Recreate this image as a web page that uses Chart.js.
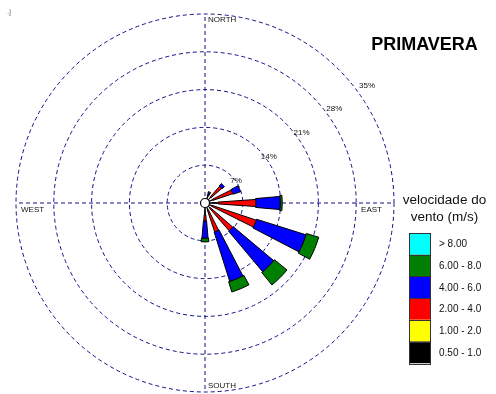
<!DOCTYPE html>
<html>
<head>
<meta charset="utf-8">
<script src="https://cdn.jsdelivr.net/npm/chart.js@4/dist/chart.umd.min.js"></script>
<style>
  html, body { margin: 0; padding: 0; background: #ffffff; }
  #wrap { width: 496px; height: 394px; position: relative; }
</style>
</head>
<body>
<div id="wrap"><canvas id="rose" width="496" height="394"></canvas></div>
<script>
// Sixteen compass sectors, clockwise from north
const directions = ['N', 'NNE', 'NE', 'ENE', 'E', 'ESE', 'SE', 'SSE',
                    'S', 'SSW', 'SW', 'WSW', 'W', 'WNW', 'NW', 'NNW'];

// Wind speed classes (m/s) and their colours
const speedClasses = ['0.50 - 1.0', '1.00 - 2.0', '2.00 - 4.0', '4.00 - 6.0', '6.00 - 8.0', '> 8.00'];
const classColors = ['#000000', '#ffff00', '#ff0000', '#0000ff', '#008000', '#00ffff'];

// Frequency of occurrence (%) per direction, one array per speed class
const freq050to100 = [0, 1.4, 1.5, 1.5, 2.4, 1.3, 1.3, 1.3, 2.2, 0, 0, 0, 0, 0, 0, 0];
const freq100to200 = [0, 0, 0, 0, 0, 0, 0, 0, 0, 0, 0, 0, 0, 0, 0, 0];
const freq200to400 = [0, 0, 2.6, 3.9, 7.0, 8.7, 5.5, 4.3, 1.1, 0, 0, 0, 0, 0, 0, 0];
const freq400to600 = [0, 0.5, 0.6, 1.5, 4.5, 9.6, 9.8, 9.6, 3.2, 0, 0, 0, 0, 0, 0, 0];
const freq600to800 = [0, 0.3, 0, 0, 0.4, 2.4, 3.0, 2.0, 0.7, 0, 0, 0, 0, 0, 0, 0];
const freqAbove800 = [0, 0, 0, 0, 0, 0, 0, 0, 0, 0, 0, 0, 0, 0, 0, 0];

// Percentage rings of the rose
const ringTicks = [7, 14, 21, 28, 35];
const ringLabels = ['7%', '14%', '21%', '28%', '35%'];
const compassLabels = ['NORTH', 'EAST', 'SOUTH', 'WEST'];

const chartTitle = 'PRIMAVERA';
const legendTitle = ['velocidade do', 'vento (m/s)'];

const classSeries = [freq050to100, freq100to200, freq200to400, freq400to600, freq600to800, freqAbove800];
// angular width (degrees) of each speed class petal: faster classes are drawn wider
const classWidths = [3, 5, 8, 10, 11.5, 13];

const GRID = '#10108a';

// Polar-area variant: each element is a ring segment centred on its direction,
// stacked on top of the slower classes of the same direction.
const PolarArea = Chart.PolarAreaController || Chart.registry.getController('polarArea');
class WindRoseController extends PolarArea {
  updateElements(arcs, start, count, mode) {
    const scale = this._cachedMeta.rScale;
    const ds = this.getDataset();
    const half = (ds.sectorWidth || 10) * Math.PI / 360;
    for (let i = start; i < start + count; i++) {
      const value = this.getParsed(i).r || 0;
      const base = ds.stackBase ? ds.stackBase[i] : 0;
      const mid = scale.getIndexAngle(i) - Math.PI / 2;
      const empty = !(value > 0);
      const arc = arcs[i];
      this.updateElement(arc, i, {
        x: scale.xCenter,
        y: scale.yCenter,
        innerRadius: scale.getDistanceFromCenterForValue(base),
        outerRadius: scale.getDistanceFromCenterForValue(base + value),
        startAngle: mid - half,
        endAngle: empty ? mid - half : mid + half,
        circumference: empty ? 0 : 2 * half,
        options: this.resolveDataElementOptions(i, arc.active ? 'active' : mode)
      }, mode);
    }
  }
}
WindRoseController.id = 'windRose';
Chart.register(WindRoseController);

// stack the classes: each class starts where the slower ones end
const running = directions.map(() => 0);
const datasets = classSeries.map((series, k) => {
  const stackBase = running.slice();
  series.forEach((v, i) => { running[i] += v; });
  return {
    label: speedClasses[k],
    data: series,
    stackBase: stackBase,
    sectorWidth: classWidths[k],
    backgroundColor: classColors[k],
    borderColor: '#000000',
    borderWidth: 1
  };
});

const roseDecor = {
  id: 'roseDecor',
  afterDatasetsDraw(chart) {
    const r = chart.scales.r;
    const ctx = chart.ctx;
    // calm centre
    ctx.save();
    ctx.beginPath();
    ctx.arc(r.xCenter, r.yCenter, 4.5, 0, Math.PI * 2);
    ctx.fillStyle = '#ffffff';
    ctx.fill();
    ctx.lineWidth = 1.2;
    ctx.strokeStyle = '#000000';
    ctx.stroke();
    ctx.restore();
  },
  afterDraw(chart) {
    const r = chart.scales.r;
    const ctx = chart.ctx;
    const xc = r.xCenter, yc = r.yCenter;
    const R = r.getDistanceFromCenterForValue(r.max);
    ctx.save();

    // ring percentages along the north-east diagonal
    ctx.font = '8px "Liberation Sans", Arial, sans-serif';
    ctx.fillStyle = '#111111';
    ctx.textAlign = 'center';
    ctx.textBaseline = 'middle';
    const a = 54 * Math.PI / 180;
    ringTicks.forEach((t, k) => {
      const d = r.getDistanceFromCenterForValue(t) * 1.07 - 2;
      ctx.fillText(ringLabels[k], xc + d * Math.sin(a), yc - d * Math.cos(a));
    });

    // compass labels
    ctx.textBaseline = 'alphabetic';
    ctx.textAlign = 'left';
    ctx.fillText(compassLabels[0], xc + 3, yc - R + 8);
    ctx.fillText(compassLabels[2], xc + 3, yc + R - 4);
    ctx.fillText(compassLabels[3], xc - R + 5, yc + 9);
    ctx.textAlign = 'right';
    ctx.fillText(compassLabels[1], xc + R - 12, yc + 9);

    // small mark in the top corner
    ctx.fillStyle = '#777777';
    ctx.textAlign = 'left';
    ctx.font = '8px "Liberation Sans", Arial, sans-serif';
    ctx.fillText('.j', 7, 14);

    // title
    ctx.fillStyle = '#000000';
    ctx.font = 'bold 18px "Liberation Sans", Arial, sans-serif';
    ctx.textAlign = 'center';
    ctx.textBaseline = 'middle';
    ctx.fillText(chartTitle, 424.5, 45.5);

    // speed legend
    ctx.font = '13.5px "Liberation Sans", Arial, sans-serif';
    ctx.fillStyle = '#111111';
    ctx.fillText(legendTitle[0], 444.5, 200);
    ctx.fillText(legendTitle[1], 444.5, 217);

    const bx = 409, bw = 22, by = 233, bh = 21.7;
    const items = chart.data.datasets.slice().reverse();
    ctx.font = '10px "Liberation Sans", Arial, sans-serif';
    ctx.textAlign = 'left';
    items.forEach((ds, k) => {
      const y = by + k * bh;
      ctx.fillStyle = ds.backgroundColor;
      ctx.fillRect(bx, y, bw, bh);
      ctx.strokeStyle = '#333333';
      ctx.lineWidth = 1;
      ctx.strokeRect(bx + 0.5, Math.round(y) + 0.5, bw - 1, Math.round(bh));
      ctx.fillStyle = '#111111';
      ctx.fillText(ds.label, 439, y + bh / 2 + 0.5);
    });
    ctx.restore();
  }
};

new Chart(document.getElementById('rose'), {
  type: 'windRose',
  data: { labels: directions, datasets: datasets },
  options: {
    responsive: false,
    devicePixelRatio: 1,
    animation: false,
    layout: { padding: { left: 16, right: 102, top: 14, bottom: 2 } },
    plugins: {
      legend: { display: false },
      tooltip: { enabled: false }
    },
    scales: {
      r: {
        type: 'radialLinear',
        min: 0,
        max: 35,
        startAngle: 0,
        ticks: { display: false, stepSize: 7 },
        pointLabels: { display: false },
        grid: { display: true, circular: true, color: GRID, lineWidth: 1, borderDash: [4, 3] },
        border: { dash: [4, 3] },
        angleLines: {
          display: true,
          lineWidth: 1,
          borderDash: [4, 3],
          color: (ctx) => (ctx.index % 4 === 0 ? GRID : null)
        }
      }
    }
  },
  plugins: [roseDecor]
});
</script>
</body>
</html>
